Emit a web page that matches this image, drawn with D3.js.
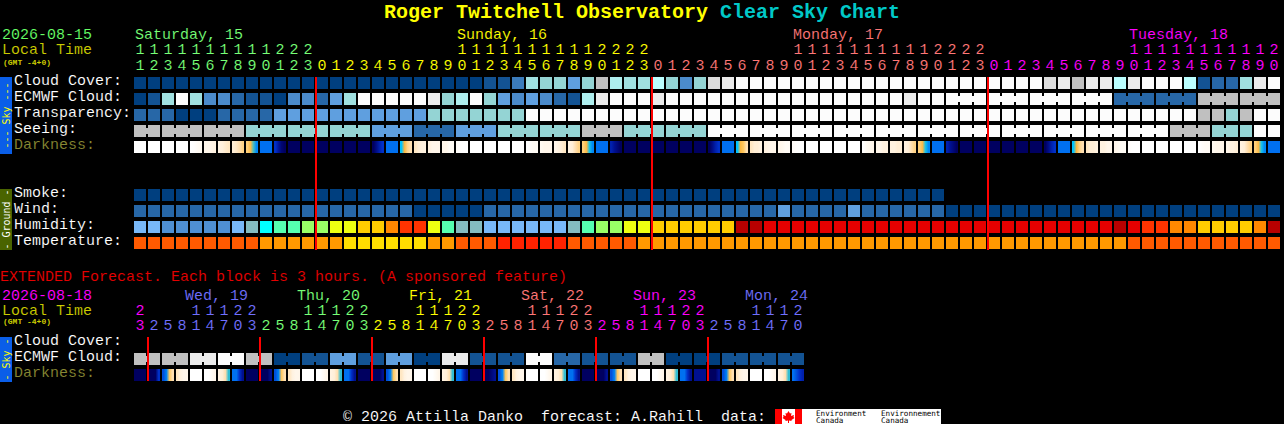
<!DOCTYPE html>
<html><head><meta charset="utf-8">
<script src="https://cdn.jsdelivr.net/npm/d3@7/dist/d3.min.js"></script>
<style>
html,body{margin:0;padding:0;background:#000;overflow:hidden}
svg{display:block}
text{font-family:"Liberation Mono",monospace;font-size:15px;white-space:pre;stroke:#000;stroke-width:.1px;paint-order:fill stroke}
text.plain{stroke:none}
</style></head><body>
<script>
// ---- hourly forecast: tick labels
const hourTens = ["1","1","1","1","1","1","1","1","1","1","2","2","2","","","","","","","","","","","1","1","1","1","1","1","1","1","1","1","2","2","2","2","","","","","","","","","","","1","1","1","1","1","1","1","1","1","1","2","2","2","2","","","","","","","","","","","1","1","1","1","1","1","1","1","1","1","2"];
const hourOnes = [1,2,3,4,5,6,7,8,9,0,1,2,3, 0,1,2,3,4,5,6,7,8,9,0,1,2,3,4,5,6,7,8,9,0,1,2,3, 0,1,2,3,4,5,6,7,8,9,0,1,2,3,4,5,6,7,8,9,0,1,2,3, 0,1,2,3,4,5,6,7,8,9,0,1,2,3,4,5,6,7,8,9,0];
const hourDay = [0,0,0,0,0,0,0,0,0,0,0,0,0, 1,1,1,1,1,1,1,1,1,1,1,1,1,1,1,1,1,1,1,1,1,1,1,1, 2,2,2,2,2,2,2,2,2,2,2,2,2,2,2,2,2,2,2,2,2,2,2,2, 3,3,3,3,3,3,3,3,3,3,3,3,3,3,3,3,3,3,3,3,3];
const dayNames = ["Saturday, 15","Sunday, 16","Monday, 17","Tuesday, 18"];
const dayLabelAt = [0,23,47,71];
const midnightAt = [13,37,61];

// ---- hourly forecast: rows (levels of the CSC colour key)
const cloudCover = [
0,0,0,0,0,0,0,0,0,0,
0,0,0,0,0,0,0,0,0,0,
0,0,0,0,0,1,1,3,7,6,
6,5,6,10,8,7,7,9,6,4,
6,11,12,13,13,13,13,13,13,13,
13,13,13,13,13,13,13,13,13,13,
13,13,13,13,13,11,12,10,12,12,
9,12,13,13,13,9,1,2,2,7,12,13];
const ecmwfCloud = [
0,1,7,13,7,4,4,2,1,1,
0,4,4,2,5,7,13,13,13,13,
13,12,6,8,13,6,5,4,5,4,
2,1,8,12,13,13,13,12,13,13,
13,13,13,13,13,13,13,13,13,13,
13,13,13,13,13,12,13,13,13,13,
13,13,13,13,13,13,13,13,13,13,
2,2,2,2,2,2,10,10,10,10,10,10];
const ecmwfGroups = [1,1,1,1,1,1,1,1,1,1,1,1,1,1,1,1,1,1,1,1,1,1,1,1,1,1,1,1,1,1,1,1,1,1,1,1,1,1,1,1,1,1,1,1,1,1,1,1,1,1,1,1,1,1,1,1,1,1,3,3,3,3,3,3,3,3];
const transparency = [
2,2,2,0,0,0,2,2,2,2,
5,5,5,5,5,5,5,5,5,5,
5,6,6,6,6,6,6,6,13,13,
13,13,13,13,13,13,13,13,13,13,
13,13,13,13,13,13,13,13,13,13,
13,13,13,13,13,13,13,13,13,13,
13,13,13,13,13,13,13,13,13,13,
13,13,13,13,13,13,10,10,6,10,13,13];
const seeing = [
10,10,10,10,10,10,10,10,6,6,
6,6,6,6,6,6,6,5,5,5,
2,2,2,5,5,5,6,6,6,6,
6,6,10,10,10,6,6,6,6,6,
6,13,13,13,13,13,13,13,13,13,
13,13,13,13,13,13,13,13,13,13,
13,13,13,13,13,13,13,13,13,13,
13,13,13,13,10,10,10,6,6,6,13,13];
const seeingGroups = [2,3,3,3,3,3,3,3,3,3,3,3,3,3,3,3,3,3,3,3,3,3,3,3,3,3,2];
const darkness = [
[0,0,0,0],[0,0,0,0],[0,0,0,0],[0,0,0,0],[0,.2,.5,.7],[1,1,1.2,1.5],[1.5,1.7,2.2,2.5],[2,2.4,3,3.5],[3.7,4.4,5.7,6.7],[7,7,7,7],
[8,8.8,9.6,10],[10,10,10,10],[10,10,10,10],[10,10,10,10],[10,10,10,10],[10,10,10,10],[10,10,10,10],[10,9.2,8.5,8],[7,7,7,7],[6,4.5,3.5,3],
[2.5,2,1.6,1.5],[1.5,1,1,1],[1,1,.5,.5],[.3,.1,0,0],[0,0,0,0],[0,0,0,0],[0,0,0,0],[0,0,0,0],[0,.3,.5,.5],[.7,1,1,1],
[1,1.5,2,2.5],[1.5,2,3,3.5],[3.7,4.4,5.9,6.7],[7,7,7,7],[8.5,9,9.5,10],[10,10,10,10],[10,10,10,10],[10,10,10,10],[10,10,10,10],[10,10,10,10],
[10,10,10,10],[10,9.2,8.5,8],[7,7,7,7],[6,4.5,4,3],[2.5,2,2,1.5],[1.5,1.2,1,1],[1,.8,.5,.5],[.3,.1,0,0],[0,0,0,0],[0,0,0,0],
[0,0,0,0],[0,0,0,0],[.1,.6,.8,1],[1,1,1.5,1.5],[1.5,1.5,2,2],[1.5,2,3,3.5],[3.7,4.4,5.9,6.7],[7,7,7,7],[8.5,9,9.5,10],[10,10,10,10],
[10,10,10,10],[10,10,10,10],[10,10,10,10],[10,10,10,10],[10,10,10,10],[10,9.2,8.5,8],[7,7,7,7],[6,4.5,3.5,3],[2.5,2,2,1.5],[1.5,1.5,1,1],
[1,.7,.5,.5],[.2,0,0,0],[0,0,0,0],[0,0,0,0],[0,0,0,0],[0,0,0,0],[0,.3,.5,.5],[.7,1,1,1],[1,1.5,1.5,2],[1.5,2,3,3.5],
[3.7,4.4,5.9,6.7],[7,7,7,7]];
const smoke = [
0,0,0,0,0,0,0,0,0,0,
0,0,0,0,0,0,0,0,0,0,
0,0,0,0,0,0,0,0,0,0,
0,0,0,0,0,0,0,0,0,0,
0,0,0,0,0,0,0,0,0,0,
0,0,0,0,0,0,0,0];
const wind = [
2,2,2,2,2,2,2,2,2,2,
2,2,2,2,2,2,2,2,2,2,
0,0,0,0,0,2,2,2,2,2,
2,2,2,2,2,2,2,2,2,2,
2,2,2,2,2,2,5,2,2,2,
2,5,2,2,2,2,2,2,0,0,
0,0,0,0,0,0,0,0,0,0,
0,0,0,0,0,0,0,0,0,0,0,0];
const humidity = [
1,1,0,0,0,0,0,1,2,3,
4,4,5,5,6,6,7,7,8,9,
9,6,4,2,2,1,1,1,1,1,
1,2,4,5,5,6,6,7,7,7,
7,7,7,11,11,10,10,10,10,10,
10,10,10,10,10,10,10,10,10,10,
10,10,10,10,10,10,10,10,10,10,
11,10,9,9,8,8,7,7,7,7,8,11];
const temperature = [
2,2,2,2,2,2,2,2,2,1,
1,1,1,1,1,0,0,0,0,0,
0,1,1,2,2,2,3,3,3,3,
3,2,2,2,2,2,1,1,1,1,
1,1,1,1,1,1,1,1,1,1,
1,1,1,1,1,1,1,1,1,1,
1,1,1,1,1,1,1,1,1,1,
1,2,2,2,2,2,2,2,2,2,2,2];

// ---- extended forecast
const extTens = ["2","","","","1","1","1","2","2","","","","1","1","1","2","2","","","","1","1","1","2","2","","","","1","1","1","2","2","","","","1","1","1","2","2","","","","1","1","1","2"];
const extOnes = [3,2,5,8,1,4,7,0,3,2,5,8,1,4,7,0,3,2,5,8,1,4,7,0,3,2,5,8,1,4,7,0,3,2,5,8,1,4,7,0,3,2,5,8,1,4,7,0];
const extDay = [3,4,4,4,4,4,4,4,4,0,0,0,0,0,0,0,0,1,1,1,1,1,1,1,1,2,2,2,2,2,2,2,2,3,3,3,3,3,3,3,3,4,4,4,4,4,4,4];
const extDayNames = ["Wed, 19","Thu, 20","Fri, 21","Sat, 22","Sun, 23","Mon, 24"];
const extDayLabelAt = [4,12,20,28,36,44];
const extMidnightAt = [1,9,17,25,33,41];
const extEcmwf = [10,10,10,10,12,12,13,13,10,10,0,0,1,1,5,5,1,1,5,5,0,0,12,12,1,1,1,1,13,13,2,2,1,1,1,1,10,10,0,0,0,0,1,1,1,1,1,1];
const extGroups = [2,2,2,2,2,2,2,2,2,2,2,2,2,2,2,2,2,2,2,2,2,2,2,2];
const extDarkness = [
[10,10,10,10],[10,10,10,8],[7.5,6.8,4,3],[2.5,1.5,1,1],[0,0,0,0],[0,0,.5,1],[1.5,2,3,5.8],[7,7,8,9],
[10,10,10,10],[10,10,10,9],[7.5,6.8,4,3],[2.5,1.5,1,1],[0,0,0,0],[0,0,.5,1],[1.5,2,3,5.8],[7,7,8,9],
[10,10,10,10],[10,10,10,9],[7.5,6.8,4,3],[2.5,1.5,1,1],[0,0,0,0],[0,0,.5,1],[1.5,2,3,5.8],[7,7,8,9],
[10,10,10,10],[10,10,9.5,9],[7.5,6.8,4,3],[2.5,1.5,1,1],[0,0,0,0],[0,0,.5,1],[1.5,2,3,5.8],[7,7,8,9],
[10,10,10,10],[10,10,10,9],[7.5,6.8,4,3],[2.5,1.5,1,1],[0,0,0,0],[0,0,.5,1],[1.5,2,3,5.8],[7,7,8,9],
[9,9,9,9],[10,10,10,9],[7.5,6.8,4,3],[2.5,1.5,1,1],[0,0,0,0],[0,0,.5,1],[1.5,2,3,5.8],[7,7.5,8,8.5]];

// ---- scales
const cloudColor = d3.scaleOrdinal(d3.range(14),
  ["#003f7f","#135393","#2767a7","#3b7bbb","#4b8bcb","#5f9fdf","#94d4d4","#a0e0e0","#aeeeee","#bbffff","#c0c0c0","#dcdcdc","#ebebeb","#fcfcfc"]);
const humidityColor = d3.scaleOrdinal(d3.range(12),
  ["#4f8fd3","#78b8f8","#84bcc0","#00ffff","#55ffb0","#99ff66","#eeff11","#ffcc00","#ff8800","#ff3300","#e60000","#b80000"]);
const temperatureColor = d3.scaleOrdinal(d3.range(4),["#ffdd00","#ff9900","#ff5a00","#ff2200"]);
const darknessColor = d3.scaleLinear().domain(d3.range(11))
  .range(["#ffffff","#fff6ea","#ffeed6","#ffdfb0","#ffc860","#f5a623","#00c4ff","#0070f0","#0030c8","#001090","#000060"]);
const dayColor = d3.scaleOrdinal(d3.range(4),["#77ff77","#ffff00","#ff7777","#ff00ff"]);
const extColor = d3.scaleOrdinal(d3.range(5),["#77ff77","#ffff00","#ff7777","#ff00ff","#7070ff"]);

const hx = d3.scaleBand().domain(d3.range(82)).range([134,134+82*14-2]).paddingInner(2/14).paddingOuter(0);
const ex = d3.scaleBand().domain(d3.range(48)).range([134,134+48*14-2]).paddingInner(2/14).paddingOuter(0);
const bw = hx.bandwidth();

const svg = d3.select("body").append("svg").attr("width",1284).attr("height",424).style("background","#000");
const defs = svg.append("defs");

function txt(x,y,s,fill,opts={}){
  const t = svg.append("text").attr("x",x).attr("y",y).attr("fill",fill).text(s);
  if(opts.size) t.style("font-size",opts.size+"px");
  if(opts.bold) t.style("font-weight","bold");
  if(opts.plain) t.attr("class","plain");
  if(opts.font) t.style("font-family",opts.font);
  return t;
}
function row(x,y,vals,color,groups){
  svg.append("g").selectAll("rect").data(vals).join("rect")
    .attr("x",(d,i)=>x(i)).attr("y",y).attr("width",bw).attr("height",12)
    .attr("fill",d=>color(d));
  if(!groups) return;
  const bridges=[]; let s=0;
  groups.forEach(n=>{ for(let k=0;k<n-1;k++) bridges.push(s+k); s+=n; });
  svg.append("g").selectAll("rect").data(bridges).join("rect")
    .attr("x",i=>x(i)+bw).attr("y",y+3).attr("width",2).attr("height",6)
    .attr("fill",i=>color(vals[i]));
}
function darkRow(x,y,vals,prefix){
  vals.forEach((v,i)=>{
    const g=defs.append("linearGradient").attr("id",prefix+i);
    v.forEach((d,k)=>g.append("stop").attr("offset",(k+.5)/v.length).attr("stop-color",darknessColor(d)));
  });
  svg.append("g").selectAll("rect").data(vals).join("rect")
    .attr("x",(d,i)=>x(i)).attr("y",y).attr("width",bw).attr("height",12)
    .attr("fill",(d,i)=>`url(#${prefix}${i})`);
}
function vtab(y0,y1,fill,s,color){
  svg.append("rect").attr("x",0).attr("y",y0).attr("width",12).attr("height",y1-y0).attr("fill",fill);
  svg.append("text").attr("class","plain").attr("transform",`translate(10,${(y0+y1)/2}) rotate(-90)`).attr("text-anchor","middle")
    .attr("fill",color).style("font-size","10px").style("font-family","'DejaVu Sans Mono'").text(s);
}

// ---- title
const title = txt(384,18,"","#ffff00",{bold:true,size:20,plain:true});
title.append("tspan").attr("fill","#ffff00").text("Roger Twitchell Observatory ");
title.append("tspan").attr("fill","#00c8c8").text("Clear Sky Chart");

// ---- hourly header
txt(2,39,"2026-08-15","#66ff66");
txt(2,54,"Local Time","#cccc00");
txt(3,65,"(GMT -4+0)","#cccc00",{size:8,bold:true,plain:true});
dayNames.forEach((d,i)=>txt(hx(dayLabelAt[i])+1,39,d,dayColor(i)));
svg.append("g").selectAll("text").data(hourTens).join("text")
  .attr("x",(d,i)=>hx(i)+bw/2).attr("y",54).attr("text-anchor","middle")
  .attr("fill",(d,i)=>dayColor(hourDay[i])).text(d=>d);
svg.append("g").selectAll("text").data(hourOnes).join("text")
  .attr("x",(d,i)=>hx(i)+bw/2).attr("y",70).attr("text-anchor","middle")
  .attr("fill",(d,i)=>dayColor(hourDay[i])).text(d=>d);

// ---- hourly rows
vtab(77,154,"#0a5ee8","--- Sky ---","#ffff00");
vtab(189,250,"#4a6400","- Ground -","#ffffff");
[["Cloud Cover:",85,"#fff"],["ECMWF Cloud:",101,"#fff"],["Transparency:",117,"#fff"],["Seeing:",133,"#fff"],["Darkness:",149,"#888833"],
 ["Smoke:",197,"#fff"],["Wind:",213,"#fff"],["Humidity:",229,"#fff"],["Temperature:",245,"#fff"]]
 .forEach(r=>txt(14,r[1],r[0],r[2]));
row(hx,77,cloudCover,cloudColor);
row(hx,93,ecmwfCloud,cloudColor,ecmwfGroups);
row(hx,109,transparency,cloudColor);
row(hx,125,seeing,cloudColor,seeingGroups);
darkRow(hx,141,darkness,"d");
row(hx,189,smoke,cloudColor);
row(hx,205,wind,cloudColor);
row(hx,221,humidity,humidityColor);
row(hx,237,temperature,temperatureColor);
svg.append("g").selectAll("rect").data(midnightAt).join("rect")
  .attr("x",i=>hx(i)-1).attr("y",77).attr("width",2).attr("height",173).attr("fill","#ff0000");

// ---- extended
txt(0,281,"EXTENDED Forecast. Each block is 3 hours. (A sponsored feature)","#e60000");
txt(2,300,"2026-08-18","#ff00ff");
txt(2,315,"Local Time","#cccc00");
txt(3,324,"(GMT -4+0)","#cccc00",{size:8,bold:true,plain:true});
extDayNames.forEach((d,i)=>txt(ex(extDayLabelAt[i])-5,300,d,[extColor(4),extColor(0),extColor(1),extColor(2),extColor(3),extColor(4)][i]));
svg.append("g").selectAll("text").data(extTens).join("text")
  .attr("x",(d,i)=>ex(i)+bw/2).attr("y",315).attr("text-anchor","middle")
  .attr("fill",(d,i)=>extColor(extDay[i])).text(d=>d);
svg.append("g").selectAll("text").data(extOnes).join("text")
  .attr("x",(d,i)=>ex(i)+bw/2).attr("y",330).attr("text-anchor","middle")
  .attr("fill",(d,i)=>extColor(extDay[i])).text(d=>d);
vtab(337,382,"#0a5ee8","- Sky -","#ffff00");
[["Cloud Cover:",345,"#fff"],["ECMWF Cloud:",361,"#fff"],["Darkness:",377,"#888833"]].forEach(r=>txt(14,r[1],r[0],r[2]));
row(ex,353,extEcmwf,cloudColor,extGroups);
darkRow(ex,369,extDarkness,"e");
svg.append("g").selectAll("rect").data(extMidnightAt).join("rect")
  .attr("x",i=>ex(i)-1).attr("y",337).attr("width",2).attr("height",44).attr("fill","#ff0000");

// ---- footer
txt(343,421,"\u00a9 2026 Attilla Danko  forecast: A.Rahill  data:","#ffffff");
svg.append("rect").attr("x",775).attr("y",409).attr("width",166).attr("height",15).attr("fill","#fff");
svg.append("rect").attr("x",775).attr("y",409).attr("width",7).attr("height",15).attr("fill","#ff0000");
svg.append("rect").attr("x",795).attr("y",409).attr("width",7).attr("height",15).attr("fill","#ff0000");
svg.append("path").attr("transform","translate(788.5,417)").attr("fill","#ff0000")
  .attr("d","M0,-6 L1.5,-3.5 L3,-4 L2.5,-1 L5.5,-2 L5,0 L6,1 L3,3 L3,4 L0.5,3.5 L0.5,6 L-0.5,6 L-0.5,3.5 L-3,4 L-3,3 L-6,1 L-5,0 L-5.5,-2 L-2.5,-1 L-3,-4 L-1.5,-3.5 Z");
[["Environment",816,416],["Canada",816,423],["Environnement",881,416],["Canada",881,423]]
  .forEach(r=>txt(r[1],r[2],r[0],"#000",{size:7.6,plain:true,font:"'DejaVu Sans Mono'"}));
</script>
</body></html>
